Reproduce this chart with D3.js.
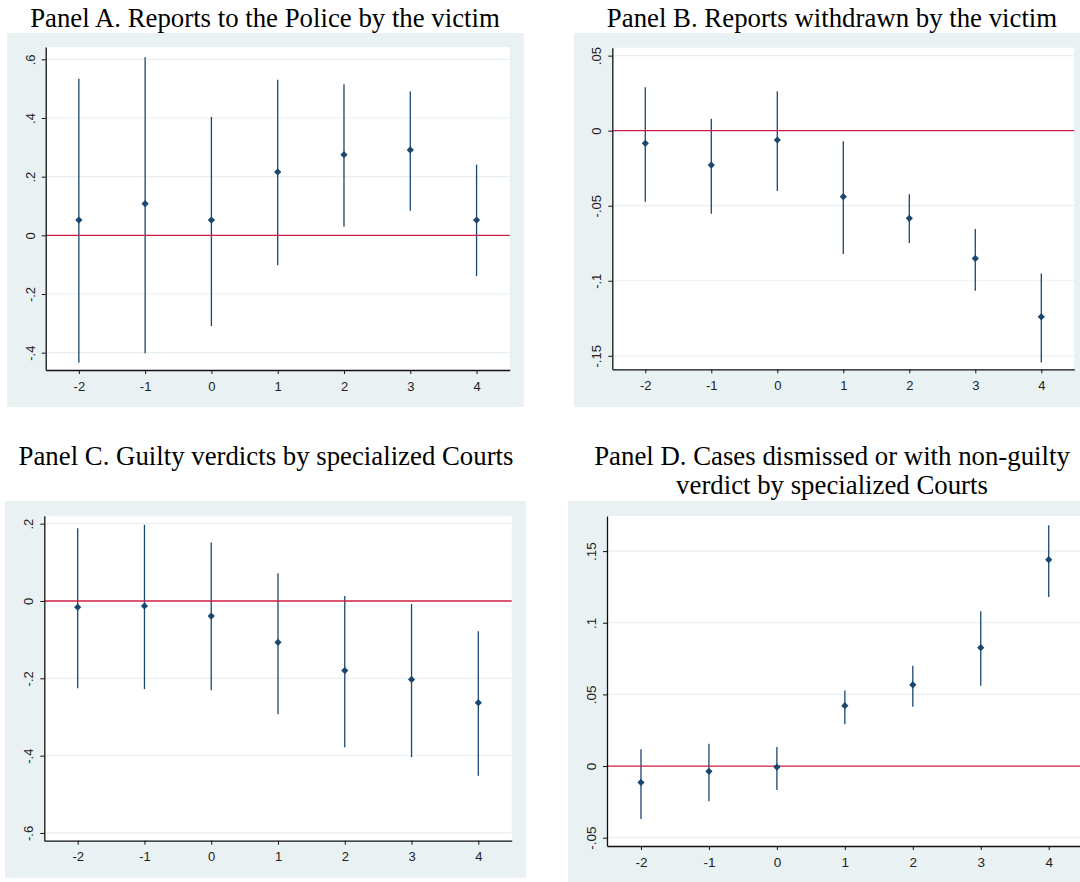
<!DOCTYPE html>
<html><head><meta charset="utf-8">
<script src="https://cdn.jsdelivr.net/npm/d3@7"></script>
<style>html,body{margin:0;padding:0;background:#fff;} svg{display:block;}</style>
</head><body>
<svg id="chart" width="1080" height="882"></svg>
<script>
// ---------- data ----------
const periods = [-2, -1, 0, 1, 2, 3, 4];
const xTickLabels = ["-2", "-1", "0", "1", "2", "3", "4"];

const estA = [0.052, 0.108, 0.052, 0.216, 0.275, 0.291, 0.052];
const loA  = [-0.434, -0.402, -0.309, -0.102, 0.029, 0.084, -0.139];
const hiA  = [0.534, 0.607, 0.404, 0.530, 0.515, 0.490, 0.241];
const yTicksA = [-0.4, -0.2, 0, 0.2, 0.4, 0.6];
const yTickLabelsA = ["-.4", "-.2", "0", ".2", ".4", ".6"];

const estB = [-0.0084, -0.0229, -0.0062, -0.0440, -0.0584, -0.0851, -0.1240];
const loB  = [-0.0473, -0.0553, -0.0402, -0.0822, -0.0749, -0.1067, -0.1544];
const hiB  = [0.0289, 0.0080, 0.0262, -0.0071, -0.0424, -0.0655, -0.0951];
const yTicksB = [-0.15, -0.1, -0.05, 0, 0.05];
const yTickLabelsB = ["-.15", "-.1", "-.05", "0", ".05"];

const estC = [-0.016, -0.013, -0.039, -0.107, -0.180, -0.203, -0.263];
const loC  = [-0.226, -0.228, -0.231, -0.293, -0.378, -0.404, -0.452];
const hiC  = [0.188, 0.197, 0.151, 0.072, 0.013, -0.008, -0.078];
const yTicksC = [-0.6, -0.4, -0.2, 0, 0.2];
const yTickLabelsC = ["-.6", "-.4", "-.2", "0", ".2"];

const estD = [-0.0114, -0.0037, -0.0007, 0.0421, 0.0567, 0.0826, 0.1440];
const loD  = [-0.0370, -0.0246, -0.0167, 0.0291, 0.0414, 0.0560, 0.1180];
const hiD  = [0.0117, 0.0156, 0.0133, 0.0528, 0.0700, 0.1080, 0.1680];
const yTicksD = [-0.05, 0, 0.05, 0.1, 0.15];
const yTickLabelsD = ["-.05", "0", ".05", ".1", ".15"];

const titleA = ["Panel A. Reports to the Police by the victim"];
const titleB = ["Panel B. Reports withdrawn by the victim"];
const titleC = ["Panel C. Guilty verdicts by specialized Courts"];
const titleD = ["Panel D. Cases dismissed or with non-guilty", "verdict by specialized Courts"];

// ---------- layout ----------
const panels = [
  {title: titleA, est: estA, lo: loA, hi: hiA, yt: yTicksA, ytl: yTickLabelsA,
   tx: 265, ty: [27], bg: [7, 33, 524, 407], plot: [45.7, 47, 509.7, 370], yDom: [-0.459, 0.642], fs: 13},
  {title: titleB, est: estB, lo: loB, hi: hiB, yt: yTicksB, ytl: yTickLabelsB,
   tx: 832, ty: [27], bg: [574, 33, 1090, 407], plot: [612.3, 47.7, 1074.3, 369.3], yDom: [-0.159, 0.0553], fs: 13},
  {title: titleC, est: estC, lo: loC, hi: hiC, yt: yTicksC, ytl: yTickLabelsC,
   tx: 266, ty: [465], bg: [5, 501, 526, 878], plot: [44.3, 515.7, 511.7, 840.7], yDom: [-0.620, 0.2206], fs: 13},
  {title: titleD, est: estD, lo: loD, hi: hiD, yt: yTicksD, ytl: yTickLabelsD,
   tx: 832, ty: [465, 494], bg: [568, 501, 1100, 900], plot: [607, 516, 1082.7, 846], yDom: [-0.0558, 0.1745], fs: 13.5}
];

const bgColor = "#e9f1f3";
const gridColor = "#e8eff1";
const navy = "#1a476f";
const red = "#d01c44";

const svg = d3.select("#chart");

panels.forEach(p => {
  const g = svg.append("g");
  const [bx0, by0, bx1, by1] = p.bg;
  const [px0, py0, px1, py1] = p.plot;

  g.append("rect").attr("x", bx0).attr("y", by0).attr("width", bx1 - bx0).attr("height", by1 - by0)
    .attr("fill", bgColor);
  g.append("rect").attr("x", px0).attr("y", py0).attr("width", px1 - px0).attr("height", py1 - py0)
    .attr("fill", "#fff");

  const x = d3.scaleLinear().domain([-2.5, 4.5]).range([px0, px1]);
  const y = d3.scaleLinear().domain(p.yDom).range([py1, py0]);

  // title
  const t = g.append("text").attr("text-anchor", "middle")
    .attr("font-family", "'Liberation Serif','Times New Roman',serif").attr("font-size", 26.8).attr("fill", "#000");
  p.title.forEach((line, i) => {
    t.append("tspan").attr("x", p.tx).attr("y", p.ty[i]).text(line);
  });

  // gridlines
  g.append("g").selectAll("line").data(p.yt.filter(v => v !== 0)).join("line")
    .attr("x1", px0).attr("x2", px1).attr("y1", d => y(d)).attr("y2", d => y(d))
    .attr("stroke", gridColor).attr("stroke-width", 1.2);

  const rows = periods.map((per, i) => ({per, est: p.est[i], lo: p.lo[i], hi: p.hi[i]}));

  // CI lines
  g.append("g").selectAll("line").data(rows).join("line")
    .attr("x1", d => x(d.per)).attr("x2", d => x(d.per))
    .attr("y1", d => y(d.lo)).attr("y2", d => y(d.hi))
    .attr("stroke", navy).attr("stroke-width", 1.3);

  // zero line
  g.append("line").attr("x1", px0).attr("x2", px1).attr("y1", y(0)).attr("y2", y(0))
    .attr("stroke", red).attr("stroke-width", 1.3);

  // markers (diamonds)
  const sym = d3.symbol().type(d3.symbolSquare).size(26);
  g.append("g").selectAll("path").data(rows).join("path")
    .attr("d", sym)
    .attr("transform", d => `translate(${x(d.per)},${y(d.est)}) rotate(45)`)
    .attr("fill", navy);

  // axes
  const xAxis = d3.axisBottom(x).tickValues(periods).tickFormat((d, i) => xTickLabels[i])
    .tickSize(4).tickSizeOuter(0).tickPadding(4);
  const gx = g.append("g").attr("transform", `translate(0,${py1})`).call(xAxis);
  gx.select(".domain").attr("stroke", "#111").attr("stroke-width", 1.3);
  gx.selectAll(".tick line").attr("stroke", "#111");
  gx.selectAll(".tick text").attr("font-family", "'Liberation Sans',Arial,sans-serif")
    .attr("font-size", p.fs).attr("fill", "#222").attr("dy", null).attr("y", 20.5);

  const yAxis = d3.axisLeft(y).tickValues(p.yt).tickFormat((d, i) => p.ytl[i])
    .tickSize(4).tickSizeOuter(0);
  const gy = g.append("g").attr("transform", `translate(${px0},0)`).call(yAxis);
  gy.select(".domain").attr("stroke", "#111").attr("stroke-width", 1.3);
  gy.selectAll(".tick line").attr("stroke", "#111");
  gy.selectAll(".tick text").attr("font-family", "'Liberation Sans',Arial,sans-serif")
    .attr("font-size", p.fs).attr("fill", "#222")
    .attr("x", null).attr("dy", null)
    .attr("text-anchor", "middle")
    .attr("transform", "translate(-11,0) rotate(-90)");
});
</script>
</body></html>
